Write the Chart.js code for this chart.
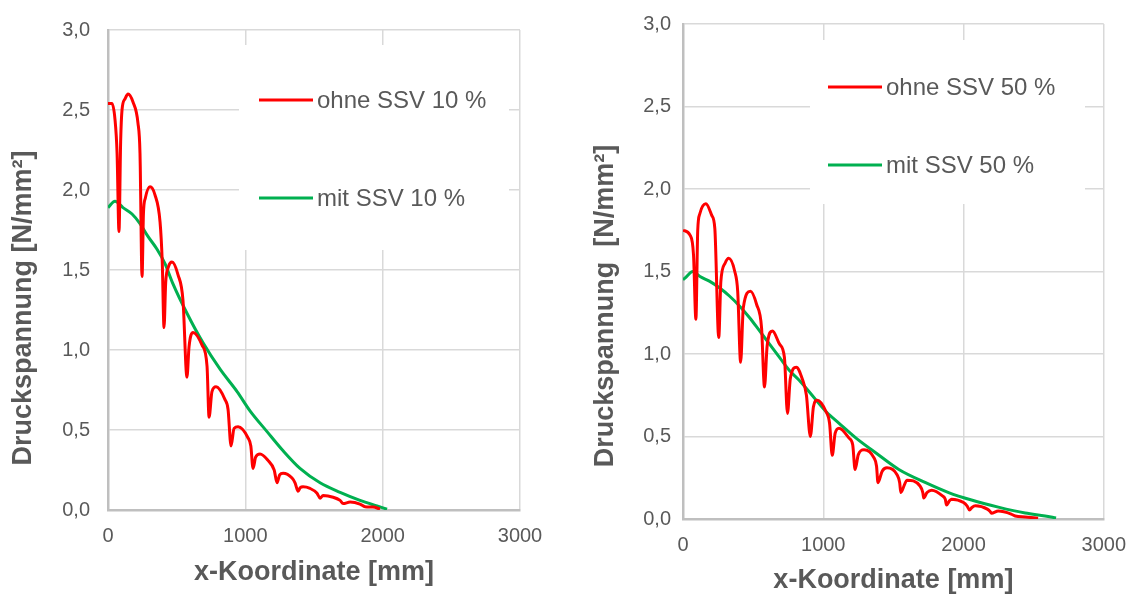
<!DOCTYPE html>
<html>
<head>
<meta charset="utf-8">
<script src="https://cdn.jsdelivr.net/npm/chart.js@4/dist/chart.umd.min.js"></script>
<style>
  html, body { margin: 0; padding: 0; background: #ffffff; }
  body { width: 1140px; height: 597px; position: relative; overflow: hidden; }
  canvas { position: absolute; top: 0; }
  #left { left: 0; }
  #right { left: 575px; }
</style>
</head>
<body>
<canvas id="left" width="560" height="597"></canvas>
<canvas id="right" width="565" height="597"></canvas>
<script>
// Axis ticks
const xTicks = [0, 1000, 2000, 3000];
const yTickLabels = ['0,0', '0,5', '1,0', '1,5', '2,0', '2,5', '3,0'];

// Druckspannung ohne SSV 10 %
const ohne10X = [0, 29, 51, 66, 80, 92, 102, 124, 146, 182, 218, 233, 248, 258, 272, 306, 342, 379, 395, 408,
  420, 440, 466, 510, 546, 575, 590, 619, 685, 721, 736, 757, 787, 852, 874, 896, 918, 947, 1020, 1040,
  1056, 1075, 1107, 1165, 1210, 1231, 1250, 1275, 1340, 1362, 1384, 1400, 1420, 1471, 1522, 1544, 1566,
  1639, 1690, 1712, 1763, 1835, 1872, 1930, 1981];
const ohne10Y = [2.54, 2.54, 2.44, 2.23, 1.74, 2.30, 2.50, 2.57, 2.60, 2.55, 2.42, 2.23, 1.46, 1.85, 1.95, 2.02, 1.97, 1.80, 1.55, 1.14,
  1.42, 1.52, 1.55, 1.47, 1.31, 0.83, 1.02, 1.11, 1.03, 0.90, 0.58, 0.74, 0.77, 0.69, 0.63, 0.40, 0.51, 0.52, 0.45, 0.40,
  0.26, 0.33, 0.35, 0.31, 0.25, 0.17, 0.22, 0.23, 0.20, 0.17, 0.117, 0.14, 0.145, 0.135, 0.105, 0.074, 0.09,
  0.08, 0.06, 0.04, 0.05, 0.037, 0.02, 0.018, 0.006];

// Druckspannung mit SSV 10 %
const mit10X = [0, 51, 109, 175, 233, 291, 357, 415, 470, 575, 692, 816, 940, 1034, 1158, 1275, 1398, 1544, 1690, 1835, 1959, 2032];
const mit10Y = [1.89, 1.93, 1.89, 1.85, 1.79, 1.71, 1.63, 1.54, 1.42, 1.23, 1.045, 0.88, 0.74, 0.62, 0.49, 0.37, 0.26, 0.17, 0.11, 0.06, 0.025, 0.005];

// Druckspannung ohne SSV 50 %
const ohne50X = [0, 50, 75, 92, 105, 120, 163, 205, 227, 255, 270, 300, 326, 369, 390, 411, 430, 482, 525, 560,
  581, 600, 638, 688, 723, 745, 765, 808, 850, 880, 908, 930, 957, 1020, 1045, 1064, 1085, 1113, 1184, 1210,
  1227, 1250, 1291, 1362, 1380, 1390, 1420, 1454, 1525, 1545, 1553, 1580, 1596, 1690, 1710, 1716, 1740, 1773,
  1850, 1870, 1879, 1900, 1915, 2000, 2025, 2043, 2060, 2085, 2170, 2190, 2199, 2248, 2340, 2369, 2440, 2532];
const ohne50Y = [1.75, 1.72, 1.60, 1.21, 1.75, 1.85, 1.91, 1.84, 1.76, 1.10, 1.44, 1.55, 1.58, 1.50, 1.38, 0.95, 1.28, 1.38, 1.30, 1.16,
  0.80, 1.05, 1.14, 1.06, 0.98, 0.64, 0.85, 0.92, 0.85, 0.75, 0.50, 0.68, 0.72, 0.65, 0.58, 0.386, 0.52, 0.55, 0.49, 0.45,
  0.30, 0.39, 0.42, 0.37, 0.32, 0.22, 0.29, 0.31, 0.27, 0.22, 0.16, 0.21, 0.235, 0.20, 0.16, 0.127, 0.16, 0.175,
  0.14, 0.12, 0.085, 0.11, 0.12, 0.10, 0.08, 0.054, 0.07, 0.08, 0.06, 0.045, 0.035, 0.048, 0.03, 0.018, 0.012, 0.005];

// Druckspannung mit SSV 50 %
const mit50X = [0, 14, 71, 121, 191, 262, 333, 404, 475, 546, 617, 688, 759, 830, 901, 1021, 1113, 1234, 1376, 1539, 1730, 1894, 2057, 2248, 2440, 2582, 2660];
const mit50Y = [1.45, 1.46, 1.50, 1.47, 1.44, 1.40, 1.35, 1.29, 1.22, 1.14, 1.06, 0.98, 0.90, 0.84, 0.77, 0.65, 0.58, 0.49, 0.40, 0.30, 0.22, 0.16, 0.115, 0.072, 0.036, 0.018, 0.006];

const RED = '#FF0000';
const GREEN = '#00B050';
const TEXT = '#595959';
const FONT = "'Liberation Sans', Arial, sans-serif";

function points(xs, ys) {
  return xs.map((x, i) => ({ x: x, y: ys[i] }));
}

// Legend drawn inside the plot on a white panel that hides the grid behind it,
// plus the rotated y-axis title placed along the left margin
const innerLegend = {
  id: 'innerLegend',
  beforeDatasetsDraw(chart, args, opts) {
    const ctx = chart.ctx;
    const b = opts.box;
    ctx.save();
    ctx.fillStyle = '#ffffff';
    ctx.fillRect(b.left, b.top, b.right - b.left, b.bottom - b.top);
    ctx.restore();
  },
  afterDatasetsDraw(chart, args, opts) {
    const ctx = chart.ctx;
    ctx.save();
    ctx.font = opts.fontSize + 'px ' + FONT;
    ctx.textBaseline = 'middle';
    ctx.textAlign = 'left';
    chart.data.datasets.forEach((ds, i) => {
      const y = opts.rows[i];
      ctx.strokeStyle = ds.borderColor;
      ctx.lineWidth = 3;
      ctx.beginPath();
      ctx.moveTo(opts.lineStart, y);
      ctx.lineTo(opts.lineEnd, y);
      ctx.stroke();
      ctx.fillStyle = TEXT;
      ctx.fillText(ds.label, opts.textStart, y + 1);
    });
    // y-axis title
    const t = opts.yTitle;
    ctx.translate(t.x, t.y);
    ctx.rotate(-Math.PI / 2);
    ctx.font = 'bold 27px ' + FONT;
    ctx.textAlign = 'center';
    ctx.textBaseline = 'middle';
    ctx.fillStyle = TEXT;
    ctx.fillText(t.text, 0, 0);
    ctx.restore();
  }
};

function makeChart(id, series, cfg) {
  return new Chart(document.getElementById(id), {
    type: 'line',
    data: {
      datasets: series.map(s => ({
        label: s.label,
        data: points(s.x, s.y),
        borderColor: s.color,
        backgroundColor: s.color,
        borderWidth: 3,
        pointRadius: 0,
        fill: false,
        cubicInterpolationMode: 'monotone'
      }))
    },
    options: {
      responsive: false,
      animation: false,
      devicePixelRatio: 1,
      layout: { padding: { top: 22, right: cfg.padRight, left: 0, bottom: 0 } },
      plugins: {
        legend: { display: false },
        tooltip: { enabled: false },
        innerLegend: cfg.legend
      },
      scales: {
        x: {
          type: 'linear',
          min: xTicks[0],
          max: xTicks[xTicks.length - 1],
          afterBuildTicks(scale) { scale.ticks = xTicks.map(v => ({ value: v })); },
          afterFit(scale) { scale.height = cfg.xHeight; },
          grid: { color: '#D9D9D9', lineWidth: 1.5, drawTicks: false },
          border: { color: '#BFBFBF', width: 2.5 },
          ticks: {
            color: TEXT,
            font: { family: FONT, size: 20 },
            padding: 14,
            maxRotation: 0,
            callback: (v) => String(v)
          },
          title: {
            display: true,
            text: 'x-Koordinate [mm]',
            color: TEXT,
            font: { family: FONT, size: 27, weight: 'bold' },
            padding: { top: 0, bottom: cfg.xTitlePad }
          }
        },
        y: {
          min: 0,
          max: 3,
          afterBuildTicks(scale) { scale.ticks = yTickLabels.map((t, i) => ({ value: i * 0.5 })); },
          afterFit(scale) { scale.width = 108; },
          grid: { color: '#D9D9D9', lineWidth: 1.5, drawTicks: false },
          border: { color: '#BFBFBF', width: 2.5 },
          ticks: {
            color: TEXT,
            font: { family: FONT, size: 20 },
            padding: cfg.yTickPad,
            callback: (v) => yTickLabels[Math.round(v / 0.5)]
          },
          title: { display: false }
        }
      }
    },
    plugins: [innerLegend]
  });
}

makeChart('left', [
  { label: 'ohne SSV 10 %', x: ohne10X, y: ohne10Y, color: RED },
  { label: 'mit SSV 10 %', x: mit10X, y: mit10Y, color: GREEN }
], {
  padRight: 40, xHeight: 87, xTitlePad: 8, yTickPad: 18,
  legend: {
    box: { left: 239, top: 45, right: 509, bottom: 250 },
    rows: [100, 198], lineStart: 259, lineEnd: 313, textStart: 317, fontSize: 24,
    yTitle: { text: 'Druckspannung [N/mm²]', x: 24, y: 308 }
  }
});

makeChart('right', [
  { label: 'ohne SSV 50 %', x: ohne50X, y: ohne50Y, color: RED },
  { label: 'mit SSV 50 %', x: mit50X, y: mit50Y, color: GREEN }
], {
  padRight: 34, xHeight: 78, xTitlePad: 0, yTickPad: 12,
  legend: {
    box: { left: 235, top: 40, right: 510, bottom: 204 },
    rows: [87, 165], lineStart: 253, lineEnd: 307, textStart: 311, fontSize: 24,
    yTitle: { text: 'Druckspannung  [N/mm²]', x: 31, y: 306 }
  }
});
</script>
</body>
</html>
